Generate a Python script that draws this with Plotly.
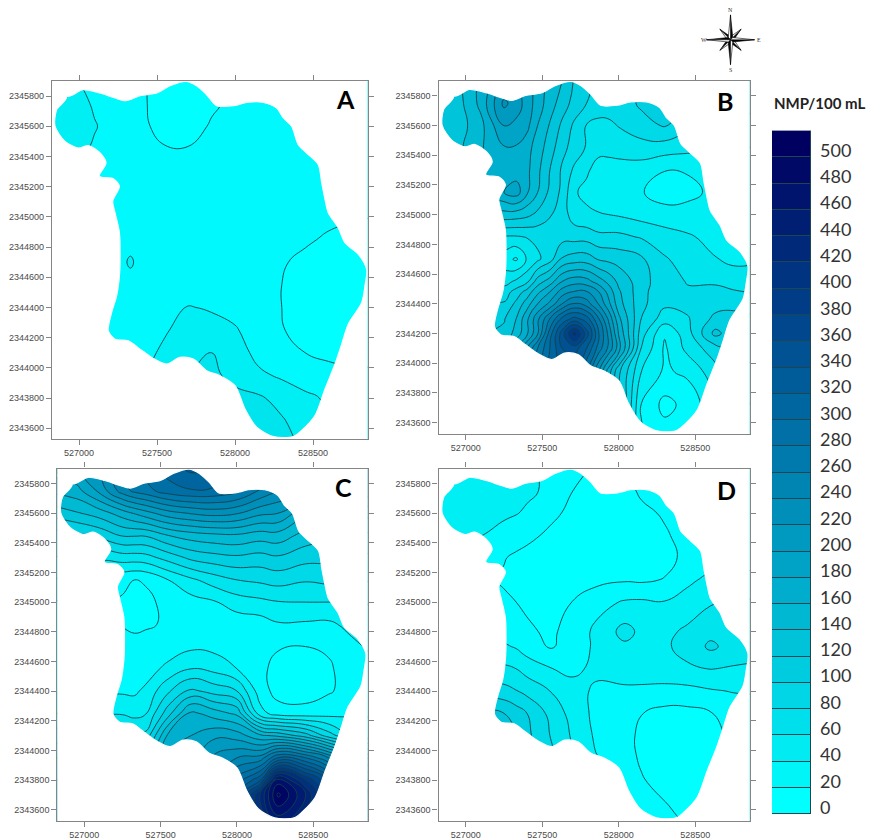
import math
import plotly.graph_objects as go

W, H = 870, 840
YS = 1.0035

# ---------- data ----------
x_ticks = [527000, 527500, 528000, 528500]
y_ticks = [2343600 + 200 * i for i in range(12)]
legend_labels = [20 * i for i in range(26)]
legend_title = "NMP/100 mL"

island_x = [526921,527024,527135,527231,527301,527391,527498,527583,527686,527754,527818,527882,527989,528075,528182,528267,528310,528363,528406,528459,528534,528556,528577,528598,528662,528705,528791,528844,528833,528812,528726,528684,528641,528577,528513,528427,528374,528246,528139,528064,528000,527904,527818,527733,527647,527562,527476,527391,527316,527231,527188,527209,527241,527259,527263,527259,527231,527216,527259,527220,527130,527173,527135,527060,526996,526910,526846,526857]
island_y = [2345798,2345842,2345820,2345787,2345769,2345802,2345820,2345868,2345897,2345868,2345809,2345736,2345736,2345758,2345758,2345721,2345655,2345600,2345478,2345423,2345346,2345225,2345115,2345027,2344928,2344829,2344752,2344653,2344543,2344432,2344289,2344157,2344025,2343860,2343684,2343585,2343545,2343545,2343607,2343728,2343882,2343948,2343981,2344058,2344069,2344025,2344062,2344124,2344179,2344190,2344245,2344366,2344476,2344609,2344719,2344895,2345027,2345104,2345203,2345252,2345269,2345357,2345423,2345472,2345456,2345500,2345600,2345710]

a_x = [526800,526950,527100,527250,527330,527400,527550,527700,527850,528000,528150,528300,528450,528600,528750,528900]
a_y = [2345900,2345750,2345600,2345450,2345300,2345150,2345000,2344850,2344700,2344550,2344400,2344250,2344100,2343950,2343800,2343650,2343500]
a_z = [
[48,44,32,28,26,22,14,10,12,22,26,28,28,28,28,28],
[50,48,38,30,26,22,14,10,17,24,27,28,28,28,28,28],
[50,47,41,33,27,23,15,12,22,26,27,28,28,28,28,28],
[48,45,38,32,28,25,21,21,25,27,28,28,28,28,28,28],
[38,36,34,30,28,27,26,25,26,27,28,28,28,28,28,28],
[32,31,30,29,28,27,27,27,27,27,28,28,28,28,28,28],
[30,30,30,30,28,27,27,27,27,27,27,27,26,25,22,20],
[30,30,30,29,29,28,27,27,27,27,27,26,23,17,14,12],
[30,30,30,30,44,30,28,27,27,27,26,22,15,8,6,5],
[30,30,30,30,29,29,28,29,29,28,26,20,12,6,5,5],
[30,30,30,30,29,30,33,41,38,33,30,20,12,7,5,5],
[30,30,30,30,29,30,38,48,47,42,30,21,14,10,8,8],
[30,30,30,30,30,33,44,52,60,50,34,24,20,15,12,12],
[30,30,30,32,34,38,52,60,66,52,44,37,33,28,25,25],
[40,40,40,40,45,50,60,66,70,68,63,53,43,38,34,34],
[50,50,55,60,62,65,68,70,72,72,70,62,50,40,36,36],
[55,55,60,65,68,70,72,74,75,75,72,68,55,44,40,40],
]

b_x = [526800,526950,527100,527250,527330,527400,527470,527550,527630,527710,527790,527870,527935,528000,528150,528300,528450,528630,528750,528900]
b_y = [2345900,2345750,2345600,2345450,2345300,2345150,2345000,2344850,2344700,2344550,2344480,2344400,2344300,2344200,2344100,2343950,2343720,2343500]
b_z = [
[125,135,165,195,195,190,170,150,140,118,105,95,92,90,100,104,100,95,90,90],
[122,132,166,225,210,192,170,150,130,113,100,92,90,88,104,108,102,95,90,90],
[118,130,154,201,195,186,160,138,116,96,79,74,76,81,92,102,85,75,70,70],
[110,135,158,178,178,168,150,130,106,92,78,66,66,68,72,70,66,62,60,60],
[110,130,160,170,170,165,145,120,97,76,63,52,52,52,50,40.5,42,50,54,55],
[120,130,160,180,190,163,140,115,95,62,55,52,51,50,41,32,33,46,50,52],
[120,125,128,132,130,125,115,102,90,70,64,61,60,58,52,47,50,52,50,50],
[90,85,80,78,78,81,85,87,92,92,92,85,85,85,78,70,62,55,50,50],
[60,55,50,48,37,62,76,92,123,130,130,118,115,112,103,82,72,61,55,58],
[80,78,75,72,84,95,130,150,180,192,188,170,154,135,108,87,79,78,72,68],
[100,100,95,90,108,128,155,180,210,222,222,200,172,143,106,85,82,84,82,78],
[110,110,110,102,125,150,180,205,240,262,250,218,185,148,105,84,87,92,93,88],
[115,115,115,118,140,175,215,260,305,326,310,260,215,165,99,70,78,105,108,100],
[120,120,120,125,148,176,218,290,350,410,350,282,233,178,88,42,72,126,108,100],
[125,125,130,140,180,220,260,300,340,350,320,270,235,190,78,37,66,92,112,105],
[140,140,140,160,200,240,270,300,320,320,280,220,170,125,60,37,45,73,95,95],
[140,140,140,150,180,200,225,250,260,260,230,190,160,130,38,14,26,55,75,80],
[140,140,140,150,170,180,200,220,230,230,200,170,145,120,42,30,35,45,60,70],
]

c_x = [526800,526950,527100,527250,527330,527400,527550,527700,527850,528000,528150,528270,528450,528600,528750,528900]
c_y = [2345900,2345750,2345600,2345450,2345300,2345150,2345000,2344850,2344700,2344550,2344400,2344250,2344100,2343950,2343800,2343700,2343500]
c_z = [
[190,200,225,265,285,290,310,325,320,300,285,275,250,225,205,195],
[165,172,205,250,265,272,290,298,296,285,258,240,230,215,200,190],
[128,138,150,170,182,192,212,222,228,222,205,200,165,158,150,145],
[90,95,105,122,122,122,140,150,155,157,150,152,132,125,120,115],
[80,75,65,70,70,72,88,105,112,116,112,117,107,105,100,95],
[60,50,30,24,20,22,40,56,70,80,84,88,82,85,85,80],
[40,30,22,18,12,15,26,32,38,50,55,59,60,60,60,62],
[35,28,22,19,16,18,22,24,26,28,30,38,37,36,46,50],
[30,28,26,26,26,26,28,36,34,26,24,22,20,22,35,45],
[30,28,26,26,28,30,46,60,54,40,26,12,10,18,27,35],
[38,38,38,37,37,44,77,105,92,80,30,12,10,18,27,30],
[60,60,58,58,52,58,112,165,150,135,48,30,28,32,36,38],
[90,90,90,90,90,85,165,180,195,190,165,155,130,90,60,50],
[120,120,120,120,120,120,185,190,225,240,248,300,280,240,180,120],
[140,140,140,140,140,140,190,200,240,290,335,470,400,340,250,180],
[150,150,150,150,150,150,200,220,260,320,420,505,440,360,280,200],
[150,150,150,150,150,150,200,230,270,330,400,440,400,340,280,200],
]

d_x = [526800,526950,527100,527250,527330,527400,527550,527700,527850,528040,528150,528300,528450,528600,528750,528900]
d_y = [2345900,2345750,2345600,2345450,2345300,2345150,2345000,2344800,2344700,2344550,2344400,2344250,2344100,2343950,2343800,2343650,2343500]
d_z = [
[50,50,50,48,46,43,36,25,18,19,25,28,30,32,32,32],
[52,52,50,48,46,44,36,20,14,14,23,28,30,32,32,32],
[52,52,48,44,41,37,24,16,10,8,16,22,30,34,34,34],
[48,46,40.5,32,28,24,17,10,8,6,9,18,26,32,34,34],
[35,32,26,21,17,15,10,7,6,5,7,14,25,30,33,33],
[28,26,24,18,15,12,8,9,14,18,17,21,36,45,45,45],
[26,26,25,23,20,16,13,20.5,33,42,43,41,48,58,62,62],
[34,34,32,30,28,24,16,28,44,67,55,55,64,74,76,76],
[48,48,46,43,38,30,18,27,44,56,53,57,67,84,72,72],
[70,68,66,64,60,52,41,36,44,50,52,54,57,60.5,58,55],
[95,92,90,87,81,74,60,47,37,36,35,33,34,38,41,42],
[125,125,125,120,110,100,75,52,35,28,20.5,14,14,19,28,30],
[130,130,130,125,120,105,80,57,37,26,16,10,8,12,25,28],
[130,130,130,130,125,110,85,60,41,30,16,8,6,10,20,25],
[130,130,130,125,120,105,80,50,38,28,22,10,6,10,20,25],
[120,120,120,110,100,90,70,45,36,32,28,20.5,12,22,30,32],
[110,110,110,100,90,80,65,44,38,34,32,30,21,30,35,35],
]

# ---------- styling ----------
N = len(legend_labels)
def band_colour(i):
    t = i / (N - 1)
    return f"rgb(0,{round(255*(1-t))},{round(255-159*t)})"
colorscale = [[0, band_colour(0)]] + [[(i + 1) / N, band_colour(i)] for i in range(N)]

LINE = "#123f4a"
FRAME = "#858585"
TICKFONT = dict(family="Liberation Sans", size=9, color="#4a4a4a")

def px_dom(a, b, total):
    return [a / total, b / total]

def py(v):
    return 1 - v * YS / H

panels = [
    dict(name="A", x=a_x, y=a_y, z=a_z, box=(52, 367.5, 81, 440), xt=(79, 313), yt=(96.3, 429.3), lab=(345, 99)),
    dict(name="B", x=b_x, y=b_y, z=b_z, box=(438.5, 749.7, 81, 435.3), xt=(465.7, 695.3), yt=(96, 423.7), lab=(725, 101)),
    dict(name="C", x=c_x, y=c_y, z=c_z, box=(57.3, 367.7, 469.7, 823), xt=(84.3, 313.3), yt=(484.7, 811.7), lab=(343, 488)),
    dict(name="D", x=d_x, y=d_y, z=d_z, box=(438.5, 749.7, 469.7, 823), xt=(465.7, 695.3), yt=(484.7, 811.7), lab=(726, 491)),
]

fig = go.Figure()
layout = dict(
    width=W, height=H, margin=dict(l=0, r=0, t=0, b=0), autosize=False,
    paper_bgcolor="white", plot_bgcolor="white", showlegend=False,
    font=dict(family="Lato"), barmode="stack", bargap=0,
)
annotations = []

for n, p in enumerate(panels, start=1):
    sfx = "" if n == 1 else str(n)
    l, r, t, b = p["box"]
    kx = 1500 / (p["xt"][1] - p["xt"][0])
    ky = 2200 / (p["yt"][1] - p["yt"][0])
    xr = [527000 - (p["xt"][0] - l) * kx, 527000 + (r - p["xt"][0]) * kx]
    yr = [2343600 - (b - p["yt"][1]) * ky, 2345800 + (p["yt"][0] - t) * ky]
    fig.add_trace(go.Contour(
        x=p["x"], y=p["y"], z=p["z"], xaxis="x" + sfx, yaxis="y" + sfx,
        autocontour=False, contours=dict(start=0, end=500, size=20, coloring="fill", showlines=True),
        colorscale=colorscale, showscale=False, zmin=0, zmax=520,
        line=dict(color=LINE, width=0.9, smoothing=1.3), hoverinfo="skip",
    ))
    ox0, ox1, oy0, oy1 = xr[0] - 400, xr[1] + 400, yr[0] - 400, yr[1] + 400
    mx = [ox0, ox0, ox1, ox1, ox0] + island_x + [island_x[0], ox0]
    my = [oy1, oy0, oy0, oy1, oy1] + island_y + [island_y[0], oy1]
    fig.add_trace(go.Scatter(
        x=mx, y=my, xaxis="x" + sfx, yaxis="y" + sfx, mode="lines", fill="toself",
        fillcolor="white", line=dict(width=1.2, color="white", shape="spline", smoothing=0.8), hoverinfo="skip",
    ))
    common = dict(showline=True, linecolor=FRAME, linewidth=1.2, mirror="allticks", ticks="outside",
                  ticklen=5, tickwidth=1, tickcolor=FRAME, showgrid=False, zeroline=False,
                  tickfont=TICKFONT, tickformat="d", tickmode="array")
    layout["xaxis" + sfx] = dict(common, domain=px_dom(l, r, W), range=xr, tickvals=x_ticks,
                                 ticktext=[str(v) for v in x_ticks], anchor="y" + sfx)
    layout["yaxis" + sfx] = dict(common, domain=[py(b), py(t)], range=yr, tickvals=y_ticks,
                                 ticktext=[str(v) for v in y_ticks], anchor="x" + sfx)
    annotations.append(dict(text=f"<b>{p['name']}</b>", xref="paper", yref="paper",
                            x=p["lab"][0] / W, y=py(p["lab"][1]), xanchor="center", yanchor="middle",
                            showarrow=False, font=dict(family="Lato", size=25, color="black")))

# colour legend
for i, lab in enumerate(legend_labels):
    fig.add_trace(go.Bar(
        x=[1], y=[lab], orientation="h", width=20, xaxis="x5", yaxis="y5",
        marker=dict(color=band_colour(i), line=dict(color="#1d4650", width=1)), hoverinfo="skip",
    ))
    annotations.append(dict(text=str(lab), xref="x5", yref="y5", x=1, y=lab, xanchor="left",
                            xshift=7, yshift=-6, showarrow=False,
                            font=dict(family="Lato", size=18, color="#333333")))
layout["xaxis5"] = dict(domain=px_dom(772, 811, W), range=[0, 1], visible=False, anchor="y5")
layout["yaxis5"] = dict(domain=[py(816), py(131)], range=[-10, 510], visible=False, anchor="x5")
annotations.append(dict(text=f"<b>{legend_title}</b>", xref="paper", yref="paper", x=819 / W,
                        y=py(103), xanchor="center", yanchor="middle", showarrow=False,
                        font=dict(family="Lato", size=15, color="#222222")))

# compass rose (points: angle, radius in pixels)
cx, cy = 730.5, 42
main_tips = [(90, 25), (0, 24), (270, 25), (180, 24)]
diag_tips = [(45, 15), (315, 15), (225, 15), (135, 15)]
inner = 3.2
def pt(a, r):
    return cx + r * math.cos(math.radians(a)), cy + r * math.sin(math.radians(a))
for tips in (diag_tips, main_tips):
    for a, r in tips:
        for side, col in ((-1, "black"), (1, "white")):
            x0, y0 = pt(a, r)
            x1, y1 = pt(a + side * 45, inner)
            fig.add_trace(go.Scatter(
                x=[x0, x1, cx, x0], y=[y0, y1, cy, y0], mode="lines", fill="toself", fillcolor=col,
                line=dict(color="black", width=0.6), xaxis="x6", yaxis="y6", hoverinfo="skip",
            ))
layout["xaxis6"] = dict(domain=px_dom(695, 765, W), range=[695, 765], visible=False, anchor="y6")
layout["yaxis6"] = dict(domain=[1 - 76 / H, 1 - 6 / H], range=[6, 76], visible=False, anchor="x6")
for txt, (tx, ty) in {"N": (cx, 72), "S": (cx, 12), "E": (cx + 28, cy), "W": (cx - 27, cy)}.items():
    annotations.append(dict(text=txt, xref="x6", yref="y6", x=tx, y=ty, showarrow=False,
                            font=dict(family="Liberation Serif", size=6, color="#333333")))

layout["annotations"] = annotations
fig.update_layout(**layout)
fig.write_html(
    "out.html",
    config={"displayModeBar": False},
    post_script="document.body.style.margin='0';document.documentElement.style.overflow='hidden';"
                "document.body.style.overflow='hidden';document.body.style.height='840px';",
)
